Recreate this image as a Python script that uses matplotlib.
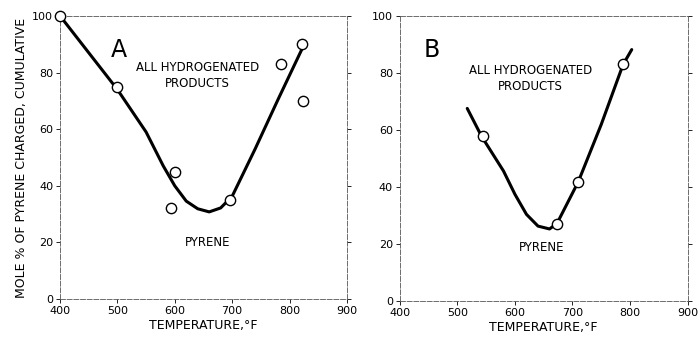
import matplotlib
matplotlib.use("Agg")
import matplotlib.pyplot as plt

# panel A: measured points and hand-drawn curve
a_pts_x = [400, 500, 593, 600, 696, 786, 822, 824]
a_pts_y = [100, 75, 32, 45, 35, 83, 90, 70]
a_curve_x = [400, 450, 500, 550, 580, 600, 620, 640, 660, 680, 700, 740, 780, 825]
a_curve_y = [100, 87, 74, 59, 47, 40, 34.6, 31.9, 30.8, 32.2, 36.3, 53, 70.5, 89.7]

# panel B
b_pts_x = [545, 673, 710, 788]
b_pts_y = [58, 27.3, 42, 83]
b_curve_x = [517, 542, 580, 600, 620, 640, 660, 673, 710, 750, 788, 803]
b_curve_y = [67.6, 57.8, 45.7, 37.5, 30.5, 26.4, 25.4, 27.3, 41.9, 62, 83, 88.2]

xticks = [400, 500, 600, 700, 800, 900]
yticks = [0, 20, 40, 60, 80, 100]

fig = plt.figure(figsize=(6.98, 3.38), dpi=100)
axA = fig.add_axes([0.086, 0.115, 0.411, 0.838])
axB = fig.add_axes([0.573, 0.108, 0.412, 0.845])

panels = [
    (axA, a_curve_x, a_curve_y, a_pts_x, a_pts_y, "A", (502, 88), (640, 79), (657, 20)),
    (axB, b_curve_x, b_curve_y, b_pts_x, b_pts_y, "B", (455, 88), (627, 78), (647, 19)),
]

for ax, cx, cy, px, py, letter, lpos, hpos, ppos in panels:
    ax.plot(cx, cy, color="black", lw=2.2, solid_capstyle="round", zorder=2, clip_on=False)
    ax.scatter(px, py, s=55, facecolor="white", edgecolor="black", lw=1.0, zorder=3,
               clip_on=False)
    ax.set_xlim(400, 900)
    ax.set_ylim(0, 100)
    ax.set_xticks(xticks)
    ax.set_yticks(yticks)
    ax.tick_params(labelsize=8, length=3, width=0.6, direction="out", right=True, pad=2)
    for s in ax.spines.values():
        s.set_linewidth(0.6)
        s.set_color("#555555")
        s.set_linestyle((0, (6, 2)))
    ax.text(*lpos, letter, fontsize=17, ha="center", va="center")
    ax.text(*hpos, "ALL HYDROGENATED\nPRODUCTS", fontsize=8.5, ha="center",
            va="center", linespacing=1.3)
    ax.text(*ppos, "PYRENE", fontsize=8.5, ha="center", va="center")
    ax.set_xlabel("TEMPERATURE,°F", fontsize=9, labelpad=2)

axA.set_ylabel("MOLE % OF PYRENE CHARGED, CUMULATIVE", fontsize=9, labelpad=3)

fig.savefig("out.png", dpi=100)
